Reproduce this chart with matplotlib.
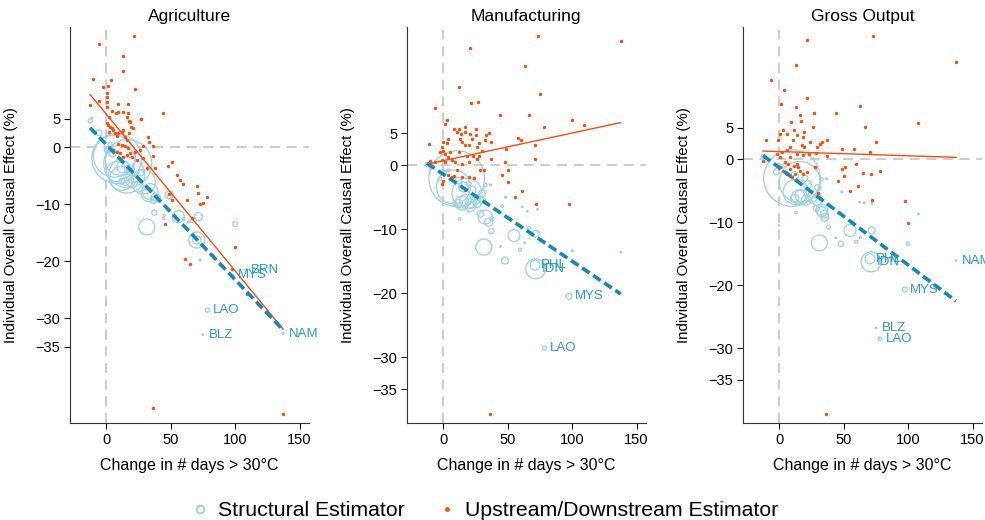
import numpy as np
import matplotlib.pyplot as plt
from matplotlib.lines import Line2D

plt.rcParams['font.family'] = ['Liberation Sans', 'DejaVu Sans']

# --- Agriculture ---
# structural estimator: labelled countries first, weights ~ economic size
ag_codes = ['BRN', 'MYS', 'LAO', 'BLZ', 'NAM']
ag_st_x = [108.3, 97.9, 78.5, 75.0, 137.2,
           8.2, 16.8, 6.4, 10.9, 16.0, 8.2, 12.0, 28.9, 34.1, 31.5, 56.0, 71.5, 70.3, 70.3, 37.4,
           100.0, -12.4, -11.0, -5.5, 72.9, 1.0, 3.0, 5.0, 13.0, 18.0, 20.0, 22.0, 25.0, 15.0, 12.0,
           27.0, 36.7, 48.3, 50.9, 44.4, 63.8, 66.4, 40.0, 38.0, 45.0, 60.0, 32.8, 49.6]
ag_st_y = [-21.5, -22.5, -28.6, -32.9, -32.7,
           -2.0, -2.9, -1.6, -2.3, -4.9, -4.3, -5.5, -6.1, -7.8, -14.0, -12.2, -12.2, -16.3, -16.3, -11.5,
           -13.5, 4.6, 5.1, 2.5, -19.8, -0.5, 0.5, -1.0, -3.5, -4.0, -6.0, -5.5, -7.0, -6.0, -6.0,
           -4.5, -9.3, -8.4, -8.1, -12.5, -13.1, -13.0, -9.0, -8.8, -12.0, -12.6, -8.4, -8.7]
ag_st_w = [1, 1.5, 4, 0.6, 1,
           620, 576, 440, 225, 324, 100, 144, 144, 64, 64, 36, 16, 64, 16, 7,
           6, 4, 1, 9, 1, 9, 4, 16, 36, 25, 36, 16, 25, 16, 9,
           9, 11, 12, 2, 1, 1, 2, 9, 16, 1, 2, 45, 7]
# upstream/downstream estimator
ag_ud_x = [-5.7, 21.4, 13.4, 13.4, -10.1, 3.6, -2.6, 1.3, 22.0, 0.5, 0.5, 0.5, 0.5, -5.7, -12.4,
           9.5, 16.8, 44.2, 13.4, 9.5, 16.8, 27.0,
           0.5, 1.8, 3.1, 4.3, 2.5, 5.6, 6.9, 8.2, 9.5, 12.1, 13.4, 14.7, 16.0, 18.0, 19.1, 18.6,
           21.1, 32.8, 33.5, 36.6, 28.9, 26.3, 22.4, 18.6, 16.0, 13.4, 10.8, 8.2, 5.6, 9.5, 12.1,
           14.7, 17.3, 19.9, 23.7, 28.9, 31.5, 38.0, 48.3, 50.9, 55.3, 57.3, 59.4, 63.0, 70.8,
           71.5, 72.8, 78.5, 75.1,
           16.0, 18.0, 26.8, 7.7, 4.3, 2.5, 48.8, 51.0, 45.7, 66.7, 99.8, 61.5, 65.0, 97.7,
           109.0, 36.7, 137.0, 36.7]
ag_ud_y = [18.1, 19.5, 16.0, 13.3, 12.0, 11.8, 10.5, 10.7, 10.1, 9.5, 8.7, 7.9, 7.0, 8.1, 7.4,
           7.6, 7.5, 5.9, 6.1, 6.1, 6.0, 5.0,
           4.2, 3.9, 3.6, 3.3, 2.7, 3.0, 2.4, 1.9, 2.5, 2.7, 3.0, 1.8, 1.3, 2.4, 3.6, 4.4,
           3.3, 1.7, 0.9, 0.1, 0.1, -0.5, -0.8, -1.1, -1.4, -1.7, -1.1, -0.8, -0.5, 0.6, 0.4,
           0.1, -0.2, -1.7, -2.3, -2.0, -3.7, -3.6, -3.3, -2.7, -4.9, -5.8, -6.4, -9.3, -6.8,
           -8.1, -9.9, -8.7, -9.8,
           5.3, 4.6, 5.0, 5.9, 6.4, 5.3, -8.3, -9.3, -13.5, -12.5, -17.6, -19.7, -20.5, -21.3,
           -25.8, -45.8, -46.8, -1.6]
ag_fit_st = (0.46, -0.237)   # intercept, slope
ag_fit_ud = (5.8, -0.275)

# --- Manufacturing ---
mf_codes = ['PHL', 'IDN', 'MYS', 'LAO']
mf_st_x = [71.3, 71.8, 97.6, 78.6,
           10.6, 8.0, 18.5, 14.6, 21.1, 32.8, 35.4, 37.5, 54.9, 71.8, 31.5, 47.9, 59.6, 44.5, 63.3,
           100.2, 137.7, 48.4, 61.4, 65.3, 73.2, 45.8, 38.0, 66.6, 12.7, 0.2, -12.5, -10.0, -2.4,
           1.0, 4.1, 12.0, 15.9, 19.8, 22.4, 30.2, 32.8, 36.7, 17.2, 12.0, 21.1, 26.3, 30.2, 28.9,
           24.0, 9.0]
mf_st_y = [-15.6, -16.2, -20.5, -28.6,
           -2.1, -3.4, -4.4, -5.9, -6.0, -8.1, -8.9, -10.3, -11.0, -10.7, -12.8, -14.9, -13.2, -12.7,
           -12.1, -13.4, -13.6, -5.0, -6.5, -7.2, -6.9, -6.4, -8.4, -9.8, -8.4, -9.1, 0.1, -0.5, -2.1,
           -1.1, -0.8, -2.4, -3.4, -2.9, -3.9, -4.4, -3.1, -3.1, -5.5, -6.0, -6.5, -6.0, -5.5, -7.6,
           -5.5, -6.0]
mf_st_w = [25, 100, 9, 4,
           780, 290, 225, 49, 25, 49, 16, 7, 36, 12, 64, 12, 2.2, 0.6, 0.6,
           1, 0.6, 1, 0.6, 0.6, 0.6, 2.2, 4, 2.2, 1.5, 0.4, 4, 1, 3,
           4, 2, 11, 25, 7, 16, 11, 3, 1, 36, 16, 25, 16, 11, 11,
           9, 4]
mf_ud_x = [73.2, 137.7, 21.1, 63.5, 12.7, 75.3, 21.6, 26.8, -6.0, 44.3, 66.7, 100.3, 108.9, 78.6,
           3.4, 1.5,
           8.8, 12.0, 16.6, 10.7, 13.8, 17.2, 21.1, 25.5, 22.4, 25.8, 33.3, 35.9, 32.8, 37.5, 27.6,
           26.3, 19.8, 17.2, 13.3, 14.6, 4.1, 2.8, 0.2, -0.5, 0.2, -2.4, 1.5, 5.4, 12.0, 18.5,
           22.9, 28.1, 30.2, 37.5, 48.4, 58.0, 60.1, 71.3, 71.3, 47.9, 50.5, 45.8, 50.5, 55.4, 61.4,
           71.8, -10.7, -10.2, -6.3, -1.1, 1.5, 4.1, 6.7, 9.4, 14.6, 19.8, 26.3, 28.9, 31.5, 10.7,
           8.8, 4.1, 6.7, 14.6, 20.3, 23.7, 17.2, 0.2, -1.1, 97.9, 36.7]
mf_ud_y = [20.2, 19.4, 18.4, 15.5, 12.3, 11.1, 9.7, 9.9, 9.0, 7.9, 7.9, 7.1, 6.3, 6.0,
           7.0, 6.5,
           5.6, 5.7, 6.0, 5.2, 4.9, 5.2, 4.9, 5.7, 4.1, 4.7, 4.7, 5.1, 4.0, 3.6, 3.4,
           2.8, 3.1, 3.1, 4.1, 3.6, 4.1, 3.4, 3.6, 2.8, 2.3, 2.1, 1.8, 2.1, 2.1, 1.5,
           1.5, 1.5, 2.3, 0.9, 2.6, 4.3, 3.9, 3.2, 1.0, 0.5, -0.7, -1.6, -2.6, -5.0, -4.1,
           -6.0, 3.3, 0.6, 0.5, 0.8, 0.5, 1.3, 0.8, 0.5, 0.2, 0.5, 1.0, -0.8, -0.8, -0.8,
           -1.7, -1.6, -1.9, -1.9, -1.8, -2.0, -3.9, -2.4, -2.9, -6.0, -38.9]
mf_fit_st = (-1.4, -0.136)
mf_fit_ud = (0.7, 0.0433)

# --- Gross Output ---
go_codes = ['PHL', 'IDN', 'NAM', 'MYS', 'BLZ', 'LAO']
go_st_x = [70.5, 71.3, 137.2, 97.4, 75.2, 78.3,
           10.0, 16.0, 13.0, 15.0, 29.2, 33.1, 35.0, 38.2, 55.0, 71.8, 31.3, 47.8, 59.7, 99.7, 108.0,
           48.6, 62.3, 66.0, 72.0, 44.0, 63.0, -12.4, -10.0, -2.0, 1.0, 4.0, 12.0, 20.0, 22.0, 30.0,
           32.8, 36.7, 17.0, 12.0, 21.0, 26.0, 30.0, 33.0, 35.4, 29.0, 0.0, 13.0]
go_st_y = [-15.8, -16.3, -16.1, -20.7, -26.8, -28.5,
           -3.0, -3.6, -5.2, -6.0, -6.5, -8.1, -8.7, -10.8, -11.3, -11.3, -13.3, -13.4, -13.1, -13.4,
           -8.7, -5.2, -6.8, -6.9, -7.0, -12.5, -12.4, 0.5, -0.2, -2.0, -1.2, -1.0, -2.6, -3.0, -4.0,
           -4.5, -3.2, -3.1, -5.8, -6.2, -6.5, -6.2, -5.8, -8.3, -9.2, -7.8, -10.5, -8.5]
go_st_w = [25, 100, 0.6, 6, 0.6, 3,
           800, 420, 160, 49, 25, 36, 16, 4, 36, 12, 64, 7, 2.2, 3, 0.6,
           1, 0.6, 1, 0.6, 0.6, 1, 4, 2.2, 9, 6, 4, 16, 9, 16, 9,
           3, 1, 36, 16, 25, 16, 9, 25, 16, 9, 0.4, 1.5]
go_ud_x = [73.1, 21.4, 137.2, 13.2, -6.2, 3.9, 22.0, 1.5, 13.2, 44.2, 62.8, 27.1, 16.3, 9.0, 16.8,
           26.1, 66.4, 108.0,
           3.4, 6.0, 11.6, 13.7, 18.3, 19.4, 11.1, -10.1, -0.5, 0.8, 17.6, 24.0, 31.8, 33.1, 37.0,
           29.2, 19.4, 8.5, 6.0, 2.1, -1.8, 0.8, 8.5, 13.7, 18.9, 23.5, 28.7, 37.5, 48.6, 58.1,
           70.5, 75.2,
           -12.1, 4.6, 7.2, 11.6, 13.7, 15.0, 0.8, 3.4, 6.0, 8.5, 9.8, 12.4, 16.3, 18.9, 21.4,
           27.9, 48.6, 51.2, 59.4, 50.4, 45.5, 55.0, 61.5, 64.9, 71.1, 78.3, 71.8, 97.7, 99.7,
           30.5, 27.9, 36.4]
go_ud_y = [19.5, 18.9, 15.4, 15.0, 12.6, 11.0, 9.8, 8.7, 8.3, 7.4, 8.4, 7.3, 7.1, 5.9, 6.0,
           5.2, 5.1, 5.7,
           4.6, 4.0, 4.6, 3.8, 3.5, 4.3, 3.1, 3.1, 3.1, 4.0, 2.3, 2.7, 2.5, 2.7, 3.1,
           1.9, 1.9, 2.0, 1.4, 1.1, 0.9, 0.3, 0.3, 0.8, 0.6, 0.8, 1.0, 0.5, 1.7, 1.7,
           1.1, 2.8,
           -0.3, -0.5, -0.7, -1.0, -0.8, -1.3, -1.3, -1.8, -2.3, -1.5, -2.8, -2.3, -1.8, -2.3, -2.0,
           -1.3, -1.5, -1.3, -0.8, -2.7, -3.4, -5.0, -4.3, -2.2, -2.3, -1.9, -6.5, -6.7, -10.1,
           -5.3, -1.2, -40.4]
go_fit_st = (-1.32, -0.1546)
go_fit_ud = (1.22, -0.0067)

yticks = [5, 0, -10, -20, -30, -35]
xticks = [0, 50, 100, 150]

ST_EDGE = '#9dd0e5'
ST_LINE = '#1587b8'
ST_TEXT = '#2a98cc'
UD_COL = '#ff4a0a'
REF_COL = '#c4c4c4'

panels = [
    ('Agriculture', 0.0711, (-48.4, 21.05),
     ag_st_x, ag_st_y, ag_st_w, ag_codes, ag_ud_x, ag_ud_y, ag_fit_st, ag_fit_ud),
    ('Manufacturing', 0.4132, (-40.3, 21.6),
     mf_st_x, mf_st_y, mf_st_w, mf_codes, mf_ud_x, mf_ud_y, mf_fit_st, mf_fit_ud),
    ('Gross Output', 0.7543, (-41.9, 21.0),
     go_st_x, go_st_y, go_st_w, go_codes, go_ud_x, go_ud_y, go_fit_st, go_fit_ud),
]

fig = plt.figure(figsize=(9.85, 5.2), dpi=100)

for title, left, ylim, st_x, st_y, st_w, codes, ud_x, ud_y, fit_st, fit_ud in panels:
    ax = fig.add_axes([left, 0.1865, 0.2422, 0.7615])
    ax.set_xlim(-28, 157)
    ax.set_ylim(*ylim)

    ax.axvline(0, color=REF_COL, lw=1.2, ls=(0, (6, 4)), zorder=0)
    ax.axhline(0, color=REF_COL, lw=1.2, ls=(0, (6, 4)), zorder=0)

    ax.scatter(st_x, st_y, s=np.array(st_w) * 2.07, facecolors='none',
               edgecolors=ST_EDGE, linewidths=0.9, zorder=2)
    ax.scatter(ud_x, ud_y, s=6, color=UD_COL, linewidths=0, zorder=3)

    xs = np.array([min(st_x), max(st_x)])
    ax.plot(xs, fit_ud[0] + fit_ud[1] * xs, color=UD_COL, lw=1.0, zorder=4)
    ax.plot(xs, fit_st[0] + fit_st[1] * xs, color=ST_LINE, lw=2.6,
            ls=(0, (2.5, 1.2)), zorder=5)

    for i, code in enumerate(codes):
        ax.annotate(code, (st_x[i], st_y[i]), xytext=(4, 0), textcoords='offset points',
                    ha='left', va='center', fontsize=9.5, color=ST_TEXT,
                    annotation_clip=False, zorder=6)

    ax.set_xticks(xticks)
    ax.set_yticks(yticks)
    ax.tick_params(direction='out', length=4, width=0.8, labelsize=10.5, pad=3)
    for side in ['top', 'right']:
        ax.spines[side].set_visible(False)
    ax.spines['left'].set_color('#333333')
    ax.spines['bottom'].set_color('#333333')

    ax.set_title(title, fontsize=12.5, pad=4)
    ax.set_xlabel('Change in # days > 30°C', fontsize=11.5)
    ax.set_ylabel('Individual Overall Causal Effect (%)', fontsize=10.8)
    ax.yaxis.set_label_coords(-0.218, 0.5)
    ax.xaxis.set_label_coords(0.5, -0.088)

handles = [
    Line2D([], [], ls='none', marker='o', markersize=5.5, markerfacecolor='none',
           markeredgecolor=ST_EDGE, markeredgewidth=1.3),
    Line2D([], [], ls='none', marker='o', markersize=2.4, color=UD_COL),
]
fig.legend(handles, ['Structural Estimator', 'Upstream/Downstream Estimator'],
           loc='center', bbox_to_anchor=(0.491, 1 - 511 / 520), ncol=2, frameon=False,
           fontsize=15.3, handletextpad=0.35, columnspacing=1.5, handlelength=1.0)

fig.savefig('out.png', dpi=100)
